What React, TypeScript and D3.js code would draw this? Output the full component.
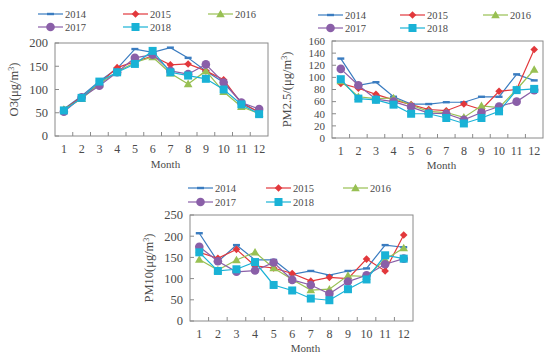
import React from "react";
import * as d3 from "d3";

const months = ["1", "2", "3", "4", "5", "6", "7", "8", "9", "10", "11", "12"];
const years = ["2014", "2015", "2016", "2017", "2018"];
const colors = ["#3a7cc0", "#e2383c", "#98c053", "#8a5fa8", "#19b2d6"];
const markers = ["dash", "diamond", "triangle", "circle", "square"];

const o3_2014 = [58, 86, 118, 145, 187, 180, 190, 168, 140, 115, 73, 50];
const o3_2015 = [57, 84, 113, 147, 160, 172, 153, 155, 140, 121, 70, 52];
const o3_2016 = [57, 80, 112, 138, 158, 170, 135, 112, 140, 95, 63, 48];
const o3_2017 = [52, 83, 108, 137, 168, 175, 140, 133, 154, 115, 72, 58];
const o3_2018 = [55, 82, 117, 137, 155, 183, 137, 130, 123, 100, 68, 47];

const pm25_2014 = [131, 87, 92, 68, 56, 56, 59, 59, 68, 68, 105, 95];
const pm25_2015 = [90, 82, 72, 63, 55, 47, 45, 56, 47, 77, 80, 146];
const pm25_2016 = [94, 68, 65, 66, 54, 44, 42, 34, 53, 50, 80, 113];
const pm25_2017 = [114, 87, 64, 60, 51, 41, 40, 30, 42, 52, 60, 79];
const pm25_2018 = [97, 65, 63, 55, 40, 40, 33, 24, 33, 44, 79, 81];

const pm10_2014 = [207, 140, 179, 144, 144, 110, 118, 108, 118, 124, 179, 174];
const pm10_2015 = [162, 148, 169, 130, 125, 112, 94, 103, 100, 146, 118, 203];
const pm10_2016 = [145, 120, 144, 162, 125, 98, 73, 75, 107, 105, 145, 172];
const pm10_2017 = [175, 141, 116, 119, 138, 97, 85, 64, 93, 108, 134, 147];
const pm10_2018 = [162, 118, 122, 139, 85, 72, 53, 49, 75, 98, 155, 147];

const o3Ticks = [0, 50, 100, 150, 200];
const pm25Ticks = [0, 20, 40, 60, 80, 100, 120, 140, 160];
const pm10Ticks = [0, 50, 100, 150, 200, 250];

const FONT = "'Liberation Serif', 'DejaVu Serif', serif";
const TXT = "#4a4a4a";

function Marker({ type, x, y, color }: { type: string; x: number; y: number; color: string }) {
  if (type === "dash") return <rect x={x - 3.5} y={y - 1.2} width={7} height={2.4} fill={color} />;
  if (type === "diamond") {
    const s = 3.8;
    return <path d={`M${x},${y - s}L${x + s},${y}L${x},${y + s}L${x - s},${y}Z`} fill={color} />;
  }
  if (type === "triangle") {
    const s = 4.3;
    return <path d={`M${x},${y - s}L${x + s},${y + s * 0.75}L${x - s},${y + s * 0.75}Z`} fill={color} />;
  }
  if (type === "circle") return <circle cx={x} cy={y} r={4.3} fill={color} />;
  return <rect x={x - 4} y={y - 4} width={8} height={8} fill={color} />;
}

type PanelProps = {
  left: number; right: number; top: number; bottom: number;
  ticks: number[]; series: number[][]; ylabel: React.ReactNode; yFont: number;
  ylabelX: number; legendX: number[]; legendY: number[]; monthY: number; tickY: number;
};

function Panel(p: PanelProps) {
  const x = d3.scaleBand<string>().domain(months).range([p.left, p.right]);
  const yMax = p.ticks[p.ticks.length - 1];
  const y = d3.scaleLinear().domain([0, yMax]).range([p.bottom, p.top]);
  const line = d3.line<number>().x((_, i) => (x(months[i]) as number) + x.bandwidth() / 2).y((v) => y(v));
  const boundaries = months.slice(1).map((m) => x(m) as number);
  const legPos = [
    [0, 0], [1, 0], [2, 0], [0, 1], [1, 1],
  ];
  return (
    <g>
      <rect x={p.left} y={p.top} width={p.right - p.left} height={p.bottom - p.top} fill="white" stroke="#8a8a8a" strokeWidth={1} />
      {p.ticks.map((t) => (
        <g key={t}>
          <line x1={p.left} x2={p.left + 4} y1={y(t)} y2={y(t)} stroke="#8a8a8a" />
          <text x={p.left - 7} y={y(t)} dy="0.35em" textAnchor="end" fontSize={p.yFont} fill={TXT} fontFamily={FONT}>{t}</text>
        </g>
      ))}
      {boundaries.map((b, i) => (
        <line key={i} x1={b} x2={b} y1={p.bottom} y2={p.bottom - 4} stroke="#8a8a8a" />
      ))}
      {months.map((m) => (
        <text key={m} x={(x(m) as number) + x.bandwidth() / 2} y={p.tickY} textAnchor="middle" fontSize={12} fill={TXT} fontFamily={FONT}>{m}</text>
      ))}
      <text x={(p.left + p.right) / 2 + 4} y={p.monthY} textAnchor="middle" fontSize={11} fill={TXT} fontFamily={FONT}>Month</text>
      <text transform={`translate(${p.ylabelX},${(p.top + p.bottom) / 2}) rotate(-90)`} textAnchor="middle" dy="0.35em" fontSize={12.5} fill={TXT} fontFamily={FONT}>{p.ylabel}</text>
      {p.series.map((s, k) => (
        <g key={k}>
          <path d={line(s) || ""} fill="none" stroke={colors[k]} strokeWidth={1.2} />
          {s.map((v, i) => (
            <Marker key={i} type={markers[k]} x={(x(months[i]) as number) + x.bandwidth() / 2} y={y(v)} color={colors[k]} />
          ))}
        </g>
      ))}
      {years.map((yr, k) => {
        const tx = p.legendX[legPos[k][0]];
        const ty = p.legendY[legPos[k][1]];
        return (
          <g key={yr}>
            <line x1={tx - 27} x2={tx - 2} y1={ty} y2={ty} stroke={colors[k]} strokeWidth={1.2} />
            <Marker type={markers[k]} x={tx - 14.5} y={ty} color={colors[k]} />
            <text x={tx} y={ty} dy="0.35em" fontSize={10.5} fill={TXT} fontFamily={FONT}>{yr}</text>
          </g>
        );
      })}
    </g>
  );
}

export default function App() {
  return (
    <svg width={550} height={358} style={{ position: "absolute", left: 0, top: 0, background: "white" }}>
      <Panel left={55} right={268} top={43} bottom={136} ticks={o3Ticks} yFont={12.5}
        series={[o3_2014, o3_2015, o3_2016, o3_2017, o3_2018]}
        ylabel={<>O3(μg/m<tspan dy="-4" fontSize={8}>3</tspan><tspan dy="4">)</tspan></>}
        ylabelX={14} legendX={[65, 150, 235]} legendY={[14, 27]} monthY={168} tickY={153} />
      <Panel left={332} right={543} top={41} bottom={138} ticks={pm25Ticks} yFont={11}
        series={[pm25_2014, pm25_2015, pm25_2016, pm25_2017, pm25_2018]}
        ylabel={<>PM2.5/(μg/m<tspan dy="-4" fontSize={8}>3</tspan><tspan dy="4">)</tspan></>}
        ylabelX={287} legendX={[345, 427, 510]} legendY={[15, 28]} monthY={169} tickY={155} />
      <Panel left={190} right={413} top={215} bottom={321} ticks={pm10Ticks} yFont={12.5}
        series={[pm10_2014, pm10_2015, pm10_2016, pm10_2017, pm10_2018]}
        ylabel={<>PM10(μg/m<tspan dy="-4" fontSize={8}>3</tspan><tspan dy="4">)</tspan></>}
        ylabelX={149} legendX={[215, 293, 370]} legendY={[188, 202]} monthY={352} tickY={338} />
    </svg>
  );
}
